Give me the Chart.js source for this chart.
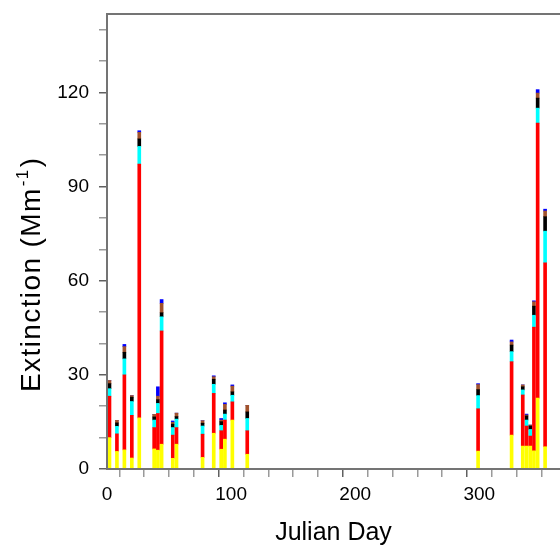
<!DOCTYPE html>
<html>
<head>
<meta charset="utf-8">
<script src="https://cdn.jsdelivr.net/npm/chart.js@4/dist/chart.umd.min.js"></script>
<style>
    html, body { margin: 0; padding: 0; background: #fff; }
    #wrap { width: 560px; height: 550px; position: relative; }
</style>
</head>
<body>
<div id="wrap"><canvas id="ext-chart"></canvas></div>
<script>
// Julian day of each sample
const days = [2, 8, 14, 20, 26, 38, 41, 44, 53, 56, 77, 86, 92, 95, 101, 113,
              299, 326, 335, 338, 341, 344, 347, 353];

// Extinction per component (Mm-1), stacked from bottom to top
const yellowPart = [10.0, 5.6, 6.1, 3.5, 16.3, 6.4, 6.0, 7.9, 3.4, 7.9, 3.7, 11.4, 6.3, 9.5, 15.6, 4.7,
                    5.7, 10.8, 7.3, 7.3, 7.3, 5.8, 22.6, 7.1];
const redPart    = [13.2, 5.6, 23.9, 13.6, 80.9, 6.8, 11.7, 36.1, 7.4, 5.3, 7.4, 12.7, 5.9, 6.1, 5.8, 7.5,
                    13.5, 23.4, 16.3, 6.4, 3.2, 39.4, 87.6, 58.6];
const cyanPart   = [2.4, 2.4, 5.1, 4.4, 5.6, 2.4, 3.2, 4.5, 2.4, 2.7, 2.6, 2.9, 1.7, 1.9, 2.1, 3.9,
                    4.2, 3.2, 1.6, 1.9, 2.1, 3.8, 4.8, 10.1];
const blackPart  = [1.6, 1.1, 2.1, 1.4, 2.4, 1.0, 1.2, 1.3, 1.1, 0.8, 0.9, 1.6, 1.2, 1.3, 1.1, 2.1,
                    1.9, 2.1, 1.0, 1.3, 1.1, 2.9, 3.2, 4.6];
const brownPart  = [1.0, 0.8, 1.8, 0.5, 2.1, 0.8, 1.1, 3.0, 0.6, 1.1, 0.8, 0.8, 0.5, 1.8, 1.8, 2.1,
                    1.6, 1.0, 0.6, 0.3, 0.3, 1.4, 1.6, 1.8];
const bluePart   = [0, 0, 0.7, 0, 0.5, 0, 3.0, 1.2, 0.4, 0, 0, 0.3, 0.5, 0.5, 0.4, 0,
                    0.3, 0.6, 0, 0.3, 0, 0.3, 1.1, 0.6];

const yTickLabels = [0, 30, 60, 90, 120];
const xTickLabels = [0, 100, 200, 300];

const FONT = '"Liberation Sans", Arial, Helvetica, sans-serif';
const AXIS_GREY = '#747474';

function makeSet(label, values, colour) {
    return {
        label: label,
        data: days.map((d, i) => ({ x: d, y: values[i] })),
        backgroundColor: colour,
        borderWidth: 0,
        barThickness: 3
    };
}

function tickShade(list) {
    return ctx => (ctx.tick && list.includes(ctx.tick.value) ? '#606060' : '#9a9a9a');
}

// Frame and axis titles
const framePlugin = {
    id: 'frame',
    afterDraw(chart) {
        const ctx = chart.ctx;
        const a = chart.chartArea;
        ctx.save();
        ctx.strokeStyle = AXIS_GREY;
        ctx.lineWidth = 2;
        ctx.beginPath();
        ctx.moveTo(a.right + 2, a.top);
        ctx.lineTo(a.left, a.top);
        ctx.lineTo(a.left, a.bottom);
        ctx.lineTo(a.right + 2, a.bottom);
        ctx.stroke();

        ctx.fillStyle = '#000';
        ctx.textBaseline = 'alphabetic';
        ctx.textAlign = 'center';
        ctx.font = '25px ' + FONT;
        ctx.fillText('Julian Day', (a.left + a.right) / 2, 540);

        // y title with superscript
        ctx.translate(40, 392);
        ctx.rotate(-Math.PI / 2);
        ctx.textAlign = 'left';
        ctx.letterSpacing = '1.4px';
        const main = 'Extinction (Mm';
        ctx.font = '28px ' + FONT;
        ctx.fillText(main, 0, 0);
        let x = ctx.measureText(main).width + 1;
        ctx.font = '17px ' + FONT;
        ctx.fillText('-1', x, -12);
        x += ctx.measureText('-1').width + 1;
        ctx.font = '28px ' + FONT;
        ctx.fillText(')', x, 0);
        ctx.restore();
    }
};

const extChart = new Chart(document.getElementById('ext-chart'), {
    type: 'bar',
    data: {
        datasets: [
            makeSet('yellow', yellowPart, '#ffff00'),
            makeSet('red', redPart, '#ff0000'),
            makeSet('cyan', cyanPart, '#00ffff'),
            makeSet('black', blackPart, '#000000'),
            makeSet('brown', brownPart, '#a0522d'),
            makeSet('blue', bluePart, '#0000ff')
        ]
    },
    options: {
        responsive: true,
        maintainAspectRatio: false,
        animation: false,
        layout: { padding: { top: 14, right: 0, left: 0, bottom: 0 } },
        plugins: {
            legend: { display: false },
            tooltip: { enabled: false }
        },
        scales: {
            x: {
                type: 'linear',
                stacked: true,
                offset: false,
                min: 0,
                max: 365,
                border: { display: false },
                grid: {
                    drawOnChartArea: false,
                    drawTicks: true,
                    tickLength: 8,
                    tickColor: tickShade(xTickLabels),
                    lineWidth: 1.5
                },
                ticks: {
                    stepSize: 20,
                    includeBounds: false,
                    autoSkip: false,
                    maxRotation: 0,
                    padding: 6,
                    color: '#000',
                    font: { family: FONT, size: 19 },
                    callback: v => (xTickLabels.includes(v) ? String(v) : '')
                },
                afterFit: scale => {
                    scale.height = 81;
                    scale.paddingLeft = 0;
                    scale.paddingRight = 0;
                }
            },
            y: {
                stacked: true,
                min: 0,
                max: 145,
                border: { display: false },
                grid: {
                    drawOnChartArea: false,
                    drawTicks: true,
                    tickLength: 8,
                    tickColor: tickShade(yTickLabels),
                    lineWidth: 1.5
                },
                ticks: {
                    stepSize: 10,
                    includeBounds: false,
                    autoSkip: false,
                    padding: 10,
                    color: '#000',
                    font: { family: FONT, size: 19 },
                    callback: v => (yTickLabels.includes(v) ? String(v) : '')
                },
                afterFit: scale => {
                    scale.width = 107;
                    scale.paddingTop = 0;
                    scale.paddingBottom = 0;
                }
            }
        }
    },
    plugins: [framePlugin]
});
</script>
</body>
</html>
